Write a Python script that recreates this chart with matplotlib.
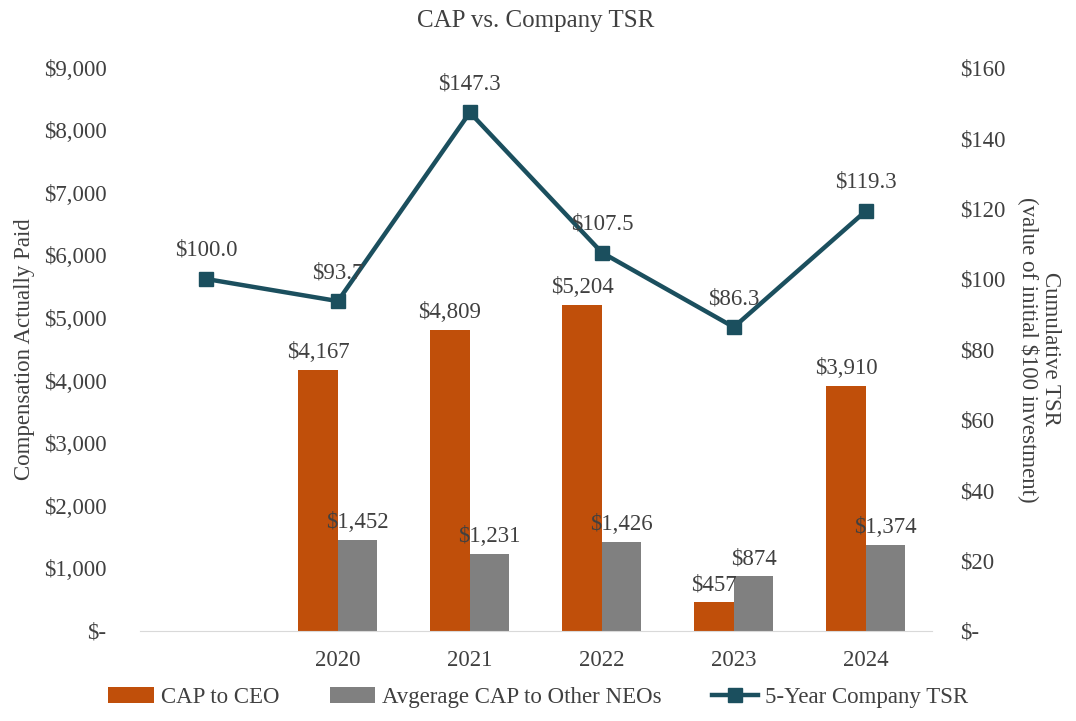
import numpy as np
import matplotlib.pyplot as plt

plt.rcParams['font.family'] = ['Liberation Serif', 'DejaVu Serif']

# data
years = ['', '2020', '2021', '2022', '2023', '2024']
cap_ceo = [np.nan, 4167, 4809, 5204, 457, 3910]
cap_neo = [np.nan, 1452, 1231, 1426, 874, 1374]
tsr = [100.0, 93.7, 147.3, 107.5, 86.3, 119.3]

c_ceo = '#C04F0A'
c_neo = '#808080'
c_tsr = '#1B4F5E'
c_txt = '#404040'
fs = 16.5

fig = plt.figure(figsize=(10.76, 7.21), dpi=100)
ax = fig.add_axes([0.130, 0.125, 0.736, 0.781])
ax2 = ax.twinx()

x = np.arange(len(years))
w = 0.3
b1 = ax.bar(x - w / 2, cap_ceo, w, color=c_ceo, label='CAP to CEO')
b2 = ax.bar(x + w / 2, cap_neo, w, color=c_neo, label='Avgerage CAP to Other NEOs')

for xi, v in zip(x, cap_ceo):
    if not np.isnan(v):
        ax.annotate(f'${v:,.0f}', (xi - w / 2, v), xytext=(0, 5), textcoords='offset points',
                    ha='center', va='bottom', fontsize=fs, color=c_txt)
for xi, v in zip(x, cap_neo):
    if not np.isnan(v):
        ax.annotate(f'${v:,.0f}', (xi + w / 2, v), xytext=(0, 5), textcoords='offset points',
                    ha='center', va='bottom', fontsize=fs, color=c_txt)

ln, = ax2.plot(x, tsr, color=c_tsr, lw=3.2, marker='s', ms=10, label='5-Year Company TSR')
for xi, v in zip(x, tsr):
    ax2.annotate(f'${v:.1f}', (xi, v), xytext=(0, 13), textcoords='offset points',
                 ha='center', va='bottom', fontsize=fs, color=c_txt)

ax.set_xlim(-0.5, len(years) - 0.5)
ax.set_ylim(0, 9000)
ax2.set_ylim(0, 160)
ax.set_yticks(np.arange(0, 9001, 1000))
ax.set_yticklabels(['$-'] + [f'${v:,.0f}' for v in range(1000, 9001, 1000)])
ax2.set_yticks(np.arange(0, 161, 20))
ax2.set_yticklabels(['$-'] + [f'${v}' for v in range(20, 161, 20)])
ax.set_xticks(x)
ax.set_xticklabels(years)

for a in (ax, ax2):
    for s in a.spines.values():
        s.set_visible(False)
    a.tick_params(length=0, labelsize=fs, labelcolor=c_txt)
ax.spines['bottom'].set_visible(True)
ax.spines['bottom'].set_color('#D9D9D9')
ax.tick_params(axis='y', pad=24)
ax2.tick_params(axis='y', pad=20)
ax.tick_params(axis='x', pad=14)

ax.set_ylabel('Compensation Actually Paid', fontsize=fs, color=c_txt, labelpad=6)
ax2.set_ylabel('Cumulative TSR\n(value of initial $100 investment)', fontsize=fs,
               color=c_txt, rotation=-90, labelpad=40, linespacing=1.0)

ax.set_title('CAP vs. Company TSR', fontsize=18, color=c_txt, pad=29)

fig.legend(handles=[b1, b2, ln], loc='lower center', bbox_to_anchor=(0.5, -0.01), ncol=3,
           frameon=False, fontsize=fs, labelcolor=c_txt, handlelength=2.0,
           handletextpad=0.3, columnspacing=2.2)

fig.savefig('out.png', dpi=100)
